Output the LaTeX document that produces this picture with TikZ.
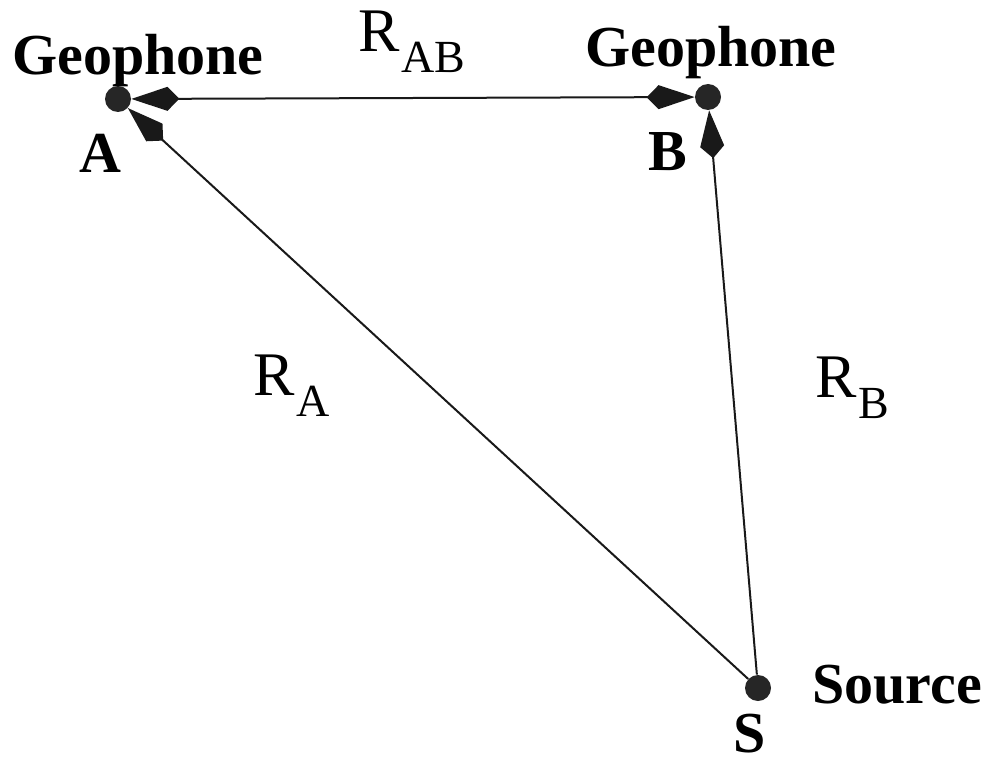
\documentclass[tikz,border=0pt]{standalone}
\usepackage{fontspec}
\setmainfont{Liberation Serif}
\usetikzlibrary{arrows.meta}

\newcommand{\rsub}[1]{R\kern1pt\raisebox{-10.5pt}{\fontsize{23}{23}\selectfont #1}}

\begin{document}
\begin{tikzpicture}[
    x=0.5pt, y=-0.5pt,
    >={Kite[length=24pt, width=12pt, inset=6pt]},
    dot/.style={circle, fill=black!85, inner sep=0pt, minimum size=13pt},
    ray/.style={line width=1pt, draw=black!90},
    tag/.style={font=\fontsize{29}{29}\selectfont\bfseries, inner sep=0pt, anchor=base},
    dist/.style={font=\fontsize{31}{31}\selectfont, inner sep=0pt, anchor=base west}
  ]
    \useasboundingbox (0,0) rectangle (990,765);
    % stations
    \node[dot] (gA) at (118,99) {};
    \node[dot] (gB) at (708,97) {};
    \node[dot] (src) at (758,688) {};
    % ray paths
    \draw[ray, <->] (gA) -- (gB);
    \draw[ray, ->] (src) -- (gA);
    \draw[ray, ->] (src) -- (gB);
    % labels
    \node[tag] (capA) at (138,75) {Geophone};
    \node[tag] (capB) at (711,67) {Geophone};
    \node[tag] (nA) at (100,172) {A};
    \node[tag] (nB) at (668,170) {B};
    \node[tag] (nS) at (750,752) {S};
    \node[tag] (capS) at (897,703) {Source};
    \node[dist] (rAB) at (358,52) {\rsub{AB}};
    \node[dist] (rA) at (253,395) {\rsub{A}};
    \node[dist] (rB) at (815,397) {\rsub{B}};
  \end{tikzpicture}
\end{document}
